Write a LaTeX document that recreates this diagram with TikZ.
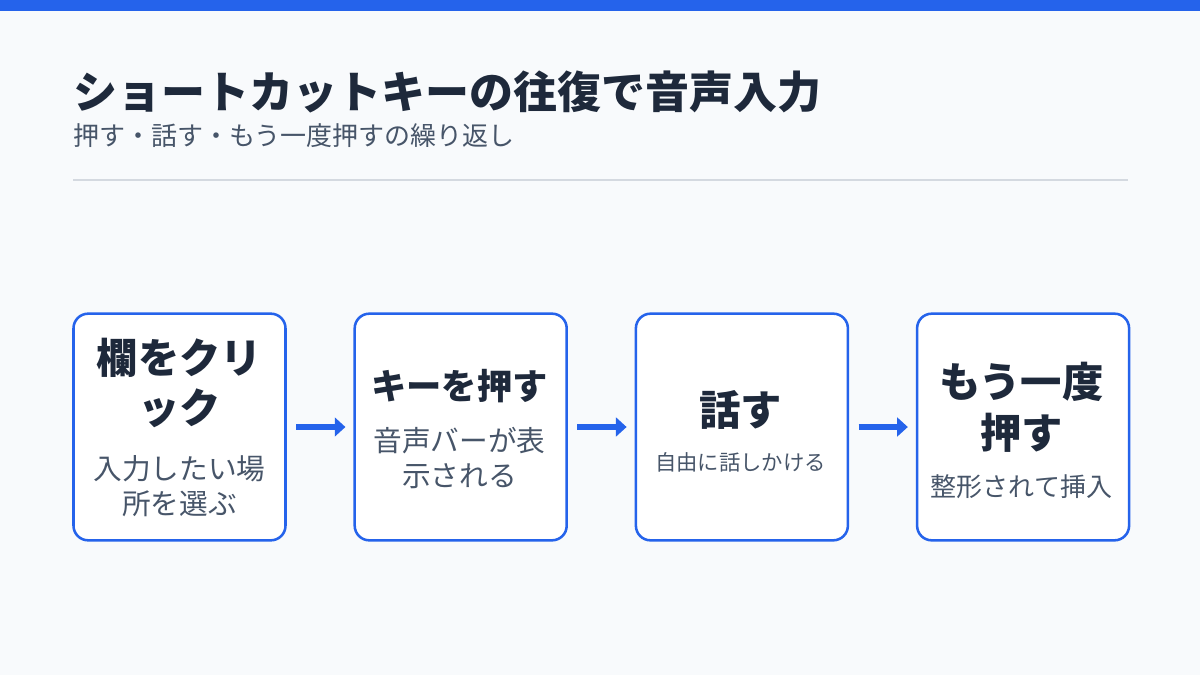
\documentclass[tikz,border=0pt]{standalone}
\usepackage{fontspec}
\setmainfont{Noto Sans CJK JP}
\usetikzlibrary{positioning}
\usetikzlibrary{arrows.meta}
\definecolor{bluemain}{HTML}{2563EB}
\definecolor{bgpage}{HTML}{F8FAFC}
\definecolor{inkdark}{HTML}{1E293B}
\definecolor{inkgray}{HTML}{475569}
\definecolor{rulegray}{HTML}{D4D9E0}
\begin{document}
\begin{tikzpicture}
		[x=0.75pt, y=-0.75pt,
		stage/.style={rectangle, rounded corners=11pt, draw=bluemain, line width=1.9pt, fill=white,
			minimum width=159pt, minimum height=170pt, node distance=50pt},
		head/.style={font=\bfseries\fontsize{31}{38}\selectfont, text=inkdark, align=center},
		note/.style={font=\fontsize{21.5}{26.5}\selectfont, text=inkgray, align=center},
		flow/.style={-{Triangle[length=8pt,width=14pt]}, line width=4.5pt, draw=bluemain}]
		\fill[bgpage] (0,0) rectangle (1200,675);
		\fill[bluemain] (0,0) rectangle (1200,11);
		\node[anchor=west, font=\bfseries\fontsize{33}{40}\selectfont, text=inkdark, inner xsep=0pt] (title) at (73,92) {ショートカットキーの往復で音声入力};
		\node[anchor=west, font=\fontsize{19.5}{24}\selectfont, text=inkgray, inner xsep=0pt] (sub) at (73,136) {押す・話す・もう一度押すの繰り返し};
		\draw[rulegray, line width=0.9pt] (73,180) -- (1128,180);

		\node[stage] (click) at (179.5,427) {};
		\node[stage, right=of click] (press) {};
		\node[stage, right=of press] (talk) {};
		\node[stage, right=of talk] (again) {};

		\node[head] at (179.5,383) {欄をクリ\\ック};
		\node[note] at (179.5,486) {入力したい場\\所を選ぶ};
		\node[head, font=\bfseries\fontsize{26.5}{32}\selectfont] at (459.5,386) {キーを押す};
		\node[note] at (459.5,458) {音声バーが表\\示される};
		\node[head] at (740.5,410) {話す};
		\node[note, font=\fontsize{16}{20}\selectfont] at (740.5,462) {自由に話しかける};
		\node[head] at (1021.5,407) {もう一度\\押す};
		\node[note, font=\fontsize{19.5}{24}\selectfont] at (1021.5,487) {整形されて挿入};

		\draw[flow] ([xshift=7pt]click.east) -- ([xshift=-6pt]press.west);
		\draw[flow] ([xshift=7pt]press.east) -- ([xshift=-6pt]talk.west);
		\draw[flow] ([xshift=7pt]talk.east) -- ([xshift=-6pt]again.west);
	\end{tikzpicture}
\end{document}
